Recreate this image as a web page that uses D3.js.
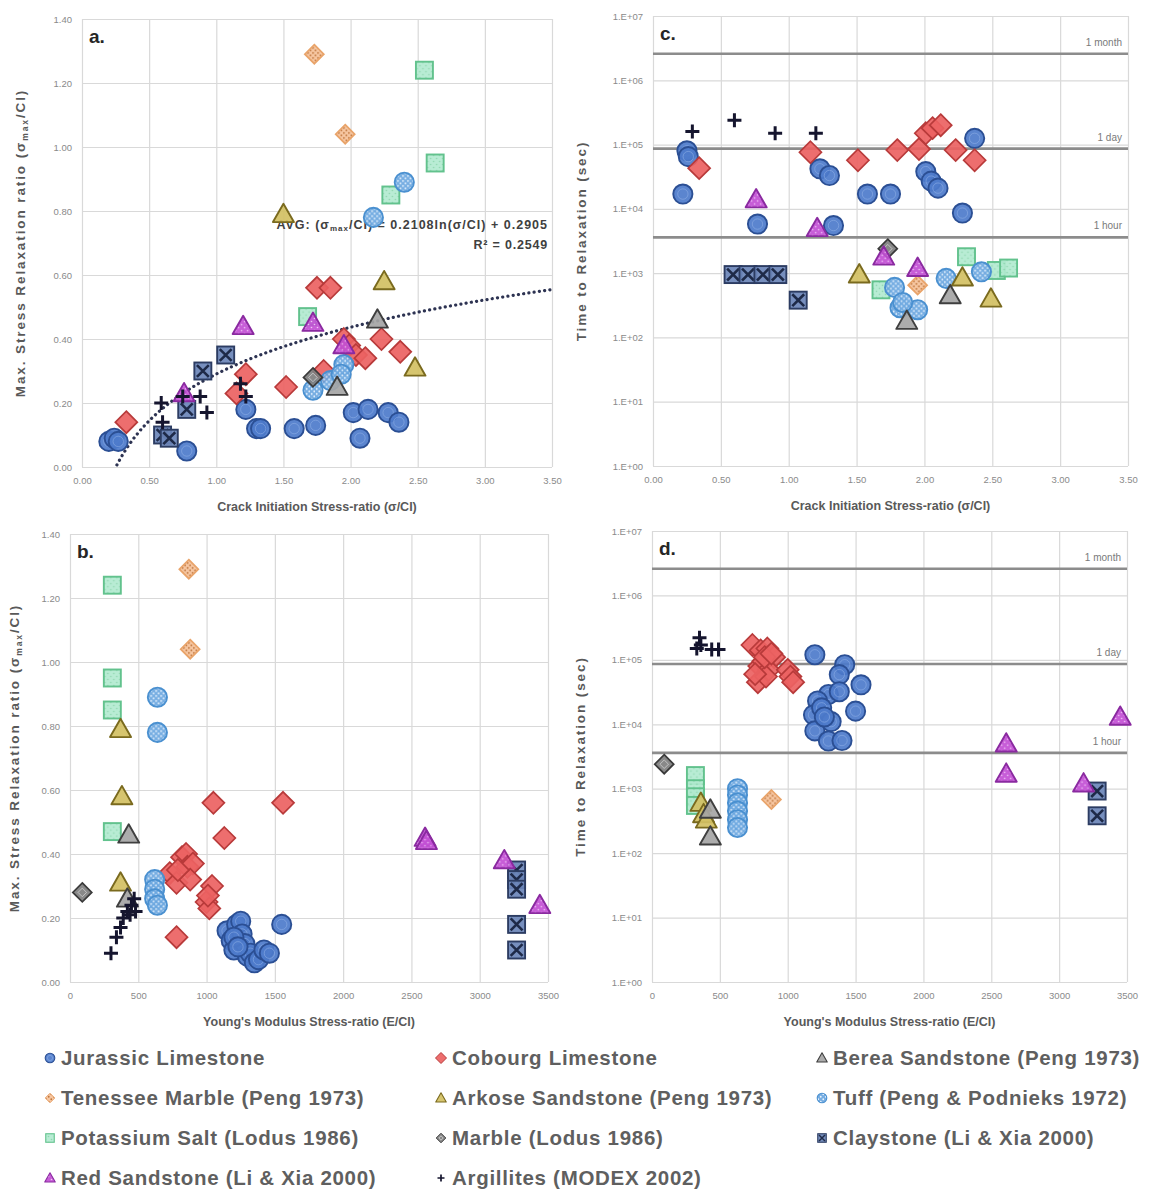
<!DOCTYPE html>
<html><head><meta charset="utf-8">
<script src="https://cdn.jsdelivr.net/npm/d3@7"></script>
<style>
body{margin:0;background:#fff}
svg{display:block}
text{font-family:"Liberation Sans",Arial,sans-serif}
</style>
</head><body>
<svg id="chart" width="1151" height="1191"></svg>
<script>
// ---------- DATA ----------
const xRatioTicks = [0, 0.5, 1, 1.5, 2, 2.5, 3, 3.5];
const xModTicks = [0, 500, 1000, 1500, 2000, 2500, 3000, 3500];
const yRatioTicks = [0, 0.2, 0.4, 0.6, 0.8, 1.0, 1.2, 1.4];
const yTimeTicks = [1, 10, 100, 1e3, 1e4, 1e5, 1e6, 1e7];
const refLines = [
  {label: "1 month", value: 2592000},
  {label: "1 day", value: 86400},
  {label: "1 hour", value: 3600}
];
const trendCoefA = 0.2108, trendCoefB = 0.2905, trendRange = [0.26, 3.5];

const jurassicLimestone = {
  a: [[0.20,0.08],[0.24,0.09],[0.27,0.08],[0.78,0.05],[1.22,0.18],[1.30,0.12],[1.33,0.12],[1.58,0.12],[1.74,0.13],[2.02,0.17],[2.07,0.09],[2.13,0.18],[2.28,0.17],[2.36,0.14]],
  b: [[1150,0.16],[1180,0.13],[1200,0.10],[1220,0.18],[1250,0.19],[1260,0.15],[1280,0.12],[1300,0.08],[1320,0.09],[1350,0.06],[1380,0.07],[1420,0.10],[1460,0.09],[1550,0.18],[1200,0.14],[1230,0.11]],
  c: [[0.25,80000],[0.26,65000],[0.22,17000],[0.77,5800],[1.23,42000],[1.30,33000],[1.33,5500],[1.58,17000],[1.75,17000],[2.01,38000],[2.05,27000],[2.10,21000],[2.28,8600],[2.37,125000]],
  d: [[1200,120000],[1420,84000],[1540,41000],[1500,16000],[1380,59000],[1300,29000],[1220,23000],[1190,14000],[1250,18000],[1200,7900],[1300,5500],[1400,5600],[1320,11000],[1270,13000],[1380,32000]]
};
const cobourgLimestone = {
  a: [[0.33,0.14],[1.15,0.23],[1.22,0.29],[1.52,0.25],[1.75,0.56],[1.85,0.56],[1.80,0.30],[1.95,0.40],[1.99,0.38],[2.04,0.35],[2.11,0.34],[2.23,0.40],[2.37,0.36]],
  b: [[780,0.14],[730,0.34],[780,0.31],[820,0.39],[850,0.40],[860,0.36],[900,0.37],[880,0.32],[790,0.35],[1000,0.25],[1020,0.23],[1040,0.30],[1050,0.56],[1130,0.45],[1560,0.56],[1010,0.27]],
  c: [[0.34,43000],[1.16,76000],[1.51,57000],[1.80,82000],[1.96,85000],[2.01,150000],[2.06,180000],[2.12,200000],[2.23,82000],[2.37,57000]],
  d: [[740,170000],[800,140000],[850,150000],[900,110000],[790,80000],[820,95000],[860,70000],[780,45000],[840,55000],[1000,70000],[1020,55000],[1040,45000],[830,110000],[880,125000],[760,60000]]
};
const bereaSandstone = {
  a: [[2.20,0.46],[1.90,0.25]], b: [[430,0.46],[420,0.26]],
  c: [[2.19,450],[1.87,180]], d: [[430,470],[430,180]]
};
const tenesseeMarble = {
  a: [[1.73,1.29],[1.96,1.04]], b: [[870,1.29],[880,1.04]],
  c: [[1.95,650]], d: [[880,680]]
};
const arkoseSandstone = {
  a: [[1.50,0.79],[2.25,0.58],[2.48,0.31]], b: [[370,0.79],[380,0.58],[370,0.31]],
  c: [[1.52,950],[2.28,850],[2.49,400]], d: [[360,600],[380,400],[400,330]]
};
const tuff = {
  a: [[2.17,0.78],[2.40,0.89],[1.95,0.32],[1.72,0.24],[1.85,0.27],[1.93,0.29]],
  b: [[640,0.89],[640,0.78],[620,0.32],[620,0.29],[620,0.26],[640,0.24]],
  c: [[2.16,830],[2.42,1050],[1.82,290],[1.95,270],[1.78,600],[1.84,350]],
  d: [[630,1000],[630,800],[630,600],[630,450],[630,330],[630,250]]
};
const potassiumSalt = {
  a: [[2.55,1.24],[2.63,0.95],[2.30,0.85],[1.68,0.47]], b: [[310,1.24],[310,0.95],[310,0.85],[310,0.47]],
  c: [[2.31,1800],[2.53,1100],[2.62,1200],[1.68,550]], d: [[320,1600],[320,1000],[320,750],[320,550]]
};
const marbleLodus = {
  a: [[1.72,0.28]], b: [[90,0.28]], c: [[1.73,2400]], d: [[90,2400]]
};
const claystone = {
  a: [[0.60,0.10],[0.65,0.09],[0.78,0.18],[0.90,0.30],[1.07,0.35]],
  b: [[3270,0.35],[3270,0.32],[3270,0.29],[3270,0.18],[3270,0.10]],
  c: [[0.59,950],[0.70,950],[0.81,950],[0.92,950],[1.07,380]],
  d: [[3280,920],[3280,380]]
};
const redSandstone = {
  a: [[0.76,0.23],[1.20,0.44],[1.72,0.45],[1.95,0.38]],
  b: [[2600,0.45],[2610,0.44],[3180,0.38],[3440,0.24]],
  c: [[0.76,14000],[1.21,5000],[1.70,1800],[1.95,1200]],
  d: [[2610,5000],[2610,1700],[3180,1200],[3450,13000]]
};
const argillites = {
  a: [[0.59,0.20],[0.60,0.14],[0.75,0.22],[0.88,0.22],[0.93,0.17],[1.18,0.26],[1.22,0.22]],
  b: [[300,0.09],[340,0.14],[370,0.17],[390,0.20],[420,0.22],[450,0.24],[470,0.26],[440,0.21],[480,0.22]],
  c: [[0.29,160000],[0.60,240000],[0.90,150000],[1.20,150000]],
  d: [[330,150000],[350,220000],[360,170000],[440,145000],[490,145000]]
};

const seriesNames = ["Jurassic Limestone","Cobourg Limestone","Berea Sandstone (Peng 1973)",
  "Tenessee Marble (Peng 1973)","Arkose Sandstone (Peng 1973)","Tuff (Peng & Podnieks 1972)",
  "Potassium Salt (Lodus 1986)","Marble (Lodus 1986)","Claystone (Li & Xia 2000)",
  "Red Sandstone (Li & Xia 2000)","Argillites (MODEX 2002)"];
const seriesData = [jurassicLimestone, cobourgLimestone, bereaSandstone, tenesseeMarble, arkoseSandstone,
  tuff, potassiumSalt, marbleLodus, claystone, redSandstone, argillites];

// ---------- STYLES ----------
const styles = [
  {shape:"circle", fill:"#4d7bcb", stroke:"#2b4f94", inner:true},
  {shape:"diamond", fill:"#ec6262", stroke:"#b83a3a"},
  {shape:"triangle", fill:"#a5a5a5", stroke:"#3f3f3f"},
  {shape:"diamondS", fill:"url(#patTen)", stroke:"#e9a46a"},
  {shape:"triangle", fill:"#d2c063", stroke:"#7a6a1e"},
  {shape:"circle", fill:"url(#patTuff)", stroke:"#4a90d0"},
  {shape:"square", fill:"url(#patSalt)", stroke:"#62c28d"},
  {shape:"diamondS", fill:"#7f7f7f", stroke:"#3a3a3a", innerD:true},
  {shape:"squareX", fill:"#6b86b8", stroke:"#2c3c62"},
  {shape:"triangle", fill:"url(#patRed)", stroke:"#8a2aa0"},
  {shape:"plus", fill:"none", stroke:"#15152e"}
];
const drawOrder = [0,1,6,5,3,4,2,7,8,9,10];

// ---------- LAYOUT ----------
const svg = d3.select("#chart");
const defs = svg.append("defs");
function pat(id, bg, dot, r, step){
  const p = defs.append("pattern").attr("id", id).attr("patternUnits","userSpaceOnUse")
    .attr("width", step).attr("height", step);
  p.append("rect").attr("width", step).attr("height", step).attr("fill", bg);
  p.append("circle").attr("cx", step/4).attr("cy", step/4).attr("r", r).attr("fill", dot);
  p.append("circle").attr("cx", 3*step/4).attr("cy", 3*step/4).attr("r", r).attr("fill", dot);
}
pat("patTuff", "#6aa6df", "#e8f3ff", 0.9, 5);
pat("patTen", "#f6c29a", "#b96a2c", 0.9, 5);
pat("patSalt", "#b2ead0", "#86d4aa", 0.8, 6);
pat("patRed", "#c24fd4", "#f2c6f8", 0.8, 6);

const panels = [
  {key:"a", label:"a.", x0:82, x1:552, y0:19, y1:467, xs:"ratio", ys:"ratio", ytx:20,
   xt:"Crack Initiation Stress-ratio (σ/CI)"},
  {key:"b", label:"b.", x0:70, x1:548, y0:534, y1:982, xs:"mod", ys:"ratio", ytx:14,
   xt:"Young's Modulus Stress-ratio (E/CI)"},
  {key:"c", label:"c.", x0:653, x1:1128, y0:16, y1:466, xs:"ratio", ys:"time", ytx:581,
   xt:"Crack Initiation Stress-ratio (σ/CI)"},
  {key:"d", label:"d.", x0:652, x1:1127, y0:531, y1:982, xs:"mod", ys:"time", ytx:580,
   xt:"Young's Modulus Stress-ratio (E/CI)"}
];

function marker(g, st, s){
  const k = s;
  if (st.shape === "circle") {
    g.append("circle").attr("r", 9.6*k).attr("fill", st.fill).attr("stroke", st.stroke).attr("stroke-width", 1.6*k+0.3).attr("fill-opacity",0.92);
    if (st.inner) g.append("circle").attr("r", 5.2*k).attr("fill","none").attr("stroke","#8fb0e6").attr("stroke-width",0.8).attr("stroke-opacity",0.7);
  } else if (st.shape === "diamond" || st.shape === "diamondS") {
    const h = (st.shape === "diamond" ? 11 : 9.5) * k;
    g.append("path").attr("d", `M0,${-h}L${h},0L0,${h}L${-h},0Z`).attr("fill", st.fill)
      .attr("stroke", st.stroke).attr("stroke-width", 1.4*k+0.3).attr("fill-opacity",0.92);
    if (st.innerD) { const h2 = h*0.45; g.append("path").attr("d", `M0,${-h2}L${h2},0L0,${h2}L${-h2},0Z`).attr("fill","none").attr("stroke","#d0d0d0").attr("stroke-width",0.8); }
  } else if (st.shape === "triangle") {
    const h = 10.5*k;
    g.append("path").attr("d", `M0,${-h}L${h},${h*0.75}L${-h},${h*0.75}Z`).attr("fill", st.fill)
      .attr("stroke", st.stroke).attr("stroke-width", 1.6*k+0.3).attr("stroke-linejoin","round").attr("fill-opacity",0.92);
  } else if (st.shape === "square" || st.shape === "squareX") {
    const h = 8.5*k;
    g.append("rect").attr("x",-h).attr("y",-h).attr("width",2*h).attr("height",2*h).attr("fill", st.fill)
      .attr("stroke", st.stroke).attr("stroke-width", 1.6*k+0.3).attr("fill-opacity",0.92);
    if (st.shape === "squareX") {
      const q = h*0.7;
      g.append("path").attr("d", `M${-q},${-q}L${q},${q}M${q},${-q}L${-q},${q}`).attr("stroke","#1e2a48").attr("stroke-width",2.2*k+0.4);
    }
  } else if (st.shape === "plus") {
    const h = 7*k;
    g.append("path").attr("d", `M${-h},0L${h},0M0,${-h}L0,${h}`).attr("stroke", st.stroke).attr("stroke-width", 2.6*k+0.4);
  }
}

panels.forEach(p => {
  const x = d3.scaleLinear().domain(p.xs === "ratio" ? [0, 3.5] : [0, 3500]).range([p.x0, p.x1]);
  const y = p.ys === "ratio" ? d3.scaleLinear().domain([0, 1.4]).range([p.y1, p.y0])
                            : d3.scaleLog().domain([1, 1e7]).range([p.y1, p.y0]);
  const xTicks = p.xs === "ratio" ? xRatioTicks : xModTicks;
  const yTicks = p.ys === "ratio" ? yRatioTicks : yTimeTicks;
  const xFmt = p.xs === "ratio" ? d3.format(".2f") : d3.format("d");
  const yFmt = p.ys === "ratio" ? d3.format(".2f") : (v => "1.E+" + String(Math.round(Math.log10(v))).padStart(2, "0"));
  const g = svg.append("g");

  const gx = g.append("g").attr("transform", `translate(0,${p.y1})`)
    .call(d3.axisBottom(x).tickValues(xTicks).tickFormat(xFmt).tickSize(-(p.y1 - p.y0)).tickPadding(10));
  const gy = g.append("g").attr("transform", `translate(${p.x0},0)`)
    .call(d3.axisLeft(y).tickValues(yTicks).tickFormat(yFmt).tickSize(-(p.x1 - p.x0)).tickPadding(10));
  [gx, gy].forEach(ax => {
    ax.select(".domain").remove();
    ax.selectAll(".tick line").attr("stroke", "#d9d9d9").attr("stroke-width", 1.2);
    ax.selectAll(".tick text").attr("fill", "#8a8a8a").attr("font-size", 9.5)
      .attr("font-family", "'Liberation Sans', Arial, sans-serif");
  });

  if (p.ys === "time") {
    refLines.forEach(r => {
      g.append("line").attr("x1", p.x0).attr("x2", p.x1).attr("y1", y(r.value)).attr("y2", y(r.value))
        .attr("stroke", "#8c8c8c").attr("stroke-width", 2.6);
      g.append("text").attr("x", p.x1 - 6).attr("y", y(r.value) - 8).attr("text-anchor", "end")
        .attr("font-size", 10).attr("fill", "#7a7a7a").text(r.label);
    });
  }

  g.append("text").attr("x", p.x0 + 7).attr("y", p.y0 + 24).attr("font-size", 19).attr("font-weight", "bold")
    .attr("fill", "#262626").text(p.label);

  g.append("text").attr("x", (p.x0 + p.x1) / 2).attr("y", p.y1 + 44).attr("text-anchor", "middle")
    .attr("font-size", 12.5).attr("font-weight", "bold").attr("fill", "#595959").text(p.xt);

  const yt = g.append("text").attr("transform", `translate(${p.ytx + 5},${(p.y0 + p.y1) / 2}) rotate(-90)`)
    .attr("text-anchor", "middle").attr("font-size", 13.5).attr("font-weight", "bold").attr("fill", "#595959")
    .attr("letter-spacing", 1.9);
  if (p.ys === "ratio") {
    yt.append("tspan").text("Max. Stress Relaxation ratio (σ");
    yt.append("tspan").attr("font-size", 8.5).attr("dy", 3).text("max");
    yt.append("tspan").attr("dy", -3).text("/CI)");
  } else {
    yt.text("Time to Relaxation (sec)");
  }

  if (p.key === "a") {
    const tx = d3.range(trendRange[0], trendRange[1] + 0.001, 0.02);
    const line = d3.line().x(d => x(d)).y(d => y(trendCoefA * Math.log(d) + trendCoefB)).curve(d3.curveMonotoneX);
    g.append("path").attr("d", line(tx)).attr("fill", "none").attr("stroke", "#2d3352")
      .attr("stroke-width", 3.2).attr("stroke-linecap", "round").attr("stroke-dasharray", "0.1 5.2");
    const eq = g.append("text").attr("x", p.x1 - 4).attr("y", 229).attr("text-anchor", "end")
      .attr("font-size", 12.5).attr("font-weight", "bold").attr("fill", "#404040").attr("letter-spacing", 1.0);
    eq.append("tspan").text("AVG: (σ");
    eq.append("tspan").attr("font-size", 8).attr("dy", 2).text("max");
    eq.append("tspan").attr("dy", -2).text("/CI) = " + trendCoefA + "ln(σ/CI) + " + trendCoefB);
    g.append("text").attr("x", p.x1 - 4).attr("y", 249).attr("text-anchor", "end")
      .attr("font-size", 12.5).attr("font-weight", "bold").attr("fill", "#404040").attr("letter-spacing", 0.8).text("R² = 0.2549");
  }

  drawOrder.forEach(si => {
    const pts = seriesData[si][p.key];
    const st = styles[si];
    g.append("g").selectAll("g").data(pts).join("g")
      .attr("transform", d => `translate(${x(d[0])},${y(d[1])})`)
      .each(function () { marker(d3.select(this), st, 1); });
  });
});

// ---------- LEGEND ----------
const legCols = [50, 441, 822];
const legRows = [1058, 1098, 1138, 1178];
seriesNames.forEach((name, i) => {
  const cx = legCols[i % 3], cy = legRows[Math.floor(i / 3)];
  const lg = svg.append("g").attr("transform", `translate(${cx},${cy})`);
  marker(lg, styles[i], 0.5);
  lg.append("text").attr("x", 11).attr("y", 7).attr("font-size", 20.5).attr("font-weight", "bold")
    .attr("letter-spacing", 0.7).attr("fill", "#5f5f5f").text(name);
});
</script>
</body></html>
